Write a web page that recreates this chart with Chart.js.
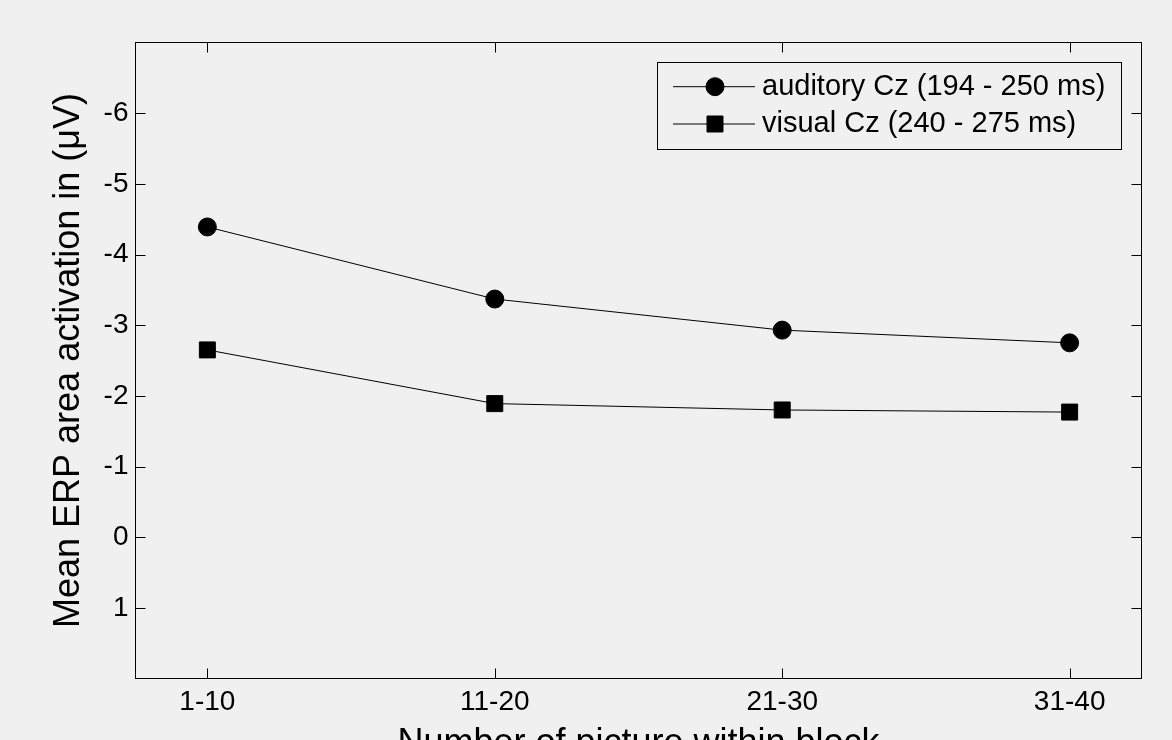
<!DOCTYPE html>
<html><head><meta charset="utf-8">
<script src="https://cdn.jsdelivr.net/npm/chart.js@4.4.1/dist/chart.umd.min.js"></script>
<style>
html,body{margin:0;padding:0;background:#f0f0f0;overflow:hidden;width:1172px;height:740px}
#wrap{position:absolute;left:0;top:0;width:1172px;height:800px}
canvas{display:block}
</style>
</head><body><div id="wrap"><canvas id="c" width="1172" height="800"></canvas></div>
<script>
// ---- data ----
const categories = ['1-10', '11-20', '21-30', '31-40'];
const auditory = [-4.39, -3.37, -2.93, -2.75];
const visual = [-2.65, -1.89, -1.80, -1.77];
const yTicks = [-6, -5, -4, -3, -2, -1, 0, 1];
const seriesLabels = ['auditory Cz (194 - 250 ms)', 'visual Cz (240 - 275 ms)'];
const xTitle = 'Number of picture within block';
const yTitle = 'Mean ERP area activation in (\u03BCV)';

const FONT = '"Liberation Sans", Arial, Helvetica, sans-serif';
const toXY = arr => arr.map((v, i) => ({x: i + 1, y: v}));

const boxPlugin = {
  id: 'boxPlugin',
  afterDraw(chart) {
    const ctx = chart.ctx;
    const a = chart.chartArea;
    const xs = chart.scales.x, ys = chart.scales.y;
    ctx.save();
    ctx.strokeStyle = '#000';
    ctx.lineWidth = 1;
    ctx.strokeRect(a.left, a.top, a.right - a.left, a.bottom - a.top);
    ctx.beginPath();
    xs.ticks.forEach(t => {
      const px = Math.round(xs.getPixelForValue(t.value)) + 0.5;
      ctx.moveTo(px, a.bottom); ctx.lineTo(px, a.bottom - 10);
      ctx.moveTo(px, a.top); ctx.lineTo(px, a.top + 10);
    });
    ys.ticks.forEach(t => {
      const py = Math.round(ys.getPixelForValue(t.value)) + 0.5;
      ctx.moveTo(a.left, py); ctx.lineTo(a.left + 10, py);
      ctx.moveTo(a.right, py); ctx.lineTo(a.right - 10, py);
    });
    ctx.stroke();

    // legend
    const lx = 657.5, ly = 62.5, lw = 464, lh = 87;
    ctx.fillStyle = '#f0f0f0';
    ctx.fillRect(lx, ly, lw, lh);
    ctx.strokeRect(lx, ly, lw, lh);
    const rows = [86.7, 124];
    chart.data.datasets.forEach((ds, i) => {
      const y = rows[i];
      ctx.beginPath();
      ctx.strokeStyle = '#000';
      ctx.lineWidth = 1;
      ctx.moveTo(673, y); ctx.lineTo(755, y);
      ctx.stroke();
      ctx.fillStyle = '#000';
      Chart.helpers.drawPoint(ctx, {
        pointStyle: ds.pointStyle, radius: ds.pointRadius, borderWidth: ds.pointBorderWidth, rotation: 0
      }, 715, y);
      ctx.font = '29px ' + FONT;
      ctx.textBaseline = 'middle';
      ctx.textAlign = 'left';
      ctx.fillStyle = '#000';
      ctx.fillText(ds.label, 762, y);
    });
    ctx.restore();
  }
};

new Chart(document.getElementById('c'), {
  type: 'line',
  data: {
    datasets: [
      {label: seriesLabels[0], data: toXY(auditory), borderColor: '#000', borderWidth: 1,
       backgroundColor: '#000', pointStyle: 'circle', pointRadius: 9, pointBorderWidth: 1,
       pointBackgroundColor: '#000', pointBorderColor: '#000', tension: 0},
      {label: seriesLabels[1], data: toXY(visual), borderColor: '#000', borderWidth: 1,
       backgroundColor: '#000', pointStyle: 'rect', pointRadius: 11.3, pointBorderWidth: 1,
       pointBackgroundColor: '#000', pointBorderColor: '#000', tension: 0}
    ]
  },
  options: {
    responsive: false,
    devicePixelRatio: 1,
    animation: false,
    events: [],
    layout: {padding: {top: 42.5, right: 30.5, left: 0, bottom: 0}},
    plugins: {legend: {display: false}, tooltip: {enabled: false}},
    scales: {
      x: {
        type: 'linear', min: 0.75, max: 4.25,
        afterBuildTicks: s => { s.ticks = categories.map((c, i) => ({value: i + 1})); },
        afterFit: s => { s.height = 121.5; },
        grid: {display: false, drawTicks: false},
        border: {display: false},
        ticks: {
          callback: v => categories[Math.round(v) - 1],
          font: {size: 28, family: FONT}, color: '#000', padding: 7,
          maxRotation: 0, autoSkip: false
        },
        title: {display: true, text: xTitle, font: {size: 36, family: FONT}, color: '#000',
                padding: {top: 0, bottom: 34}}
      },
      y: {
        type: 'linear', min: -7, max: 2, reverse: true,
        afterBuildTicks: s => { s.ticks = yTicks.map(v => ({value: v})); },
        afterFit: s => { s.width = 135.5; },
        grid: {display: false, drawTicks: false},
        border: {display: false},
        ticks: {font: {size: 28, family: FONT}, color: '#000', padding: 7},
        title: {display: true, text: yTitle, font: {size: 36, family: FONT}, color: '#000',
                padding: {top: 47, bottom: 0}}
      }
    }
  },
  plugins: [boxPlugin]
});
</script>
</body></html>
